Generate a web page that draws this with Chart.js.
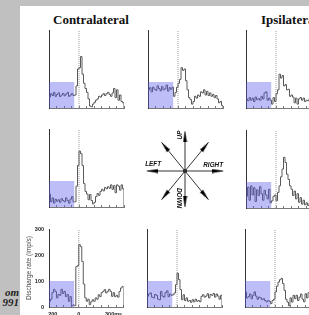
<!DOCTYPE html>
<html>
<head>
<meta charset="utf-8">
<script src="https://cdn.jsdelivr.net/npm/chart.js@4.4.0/dist/chart.umd.min.js"></script>
<style>
html,body{margin:0;padding:0;}
body{width:309px;height:315px;background:#c0c0c0;position:relative;overflow:hidden;}
#hoja{position:absolute;left:20px;top:6px;width:289px;height:309px;background:#fff;}
canvas{position:absolute;}
.titulo{position:absolute;top:13px;font:bold 13px "Liberation Serif",serif;line-height:13px;color:#111;white-space:nowrap;}
.lado{position:absolute;right:290px;font:italic bold 11px "Liberation Serif",serif;line-height:11px;color:#222;text-align:right;white-space:nowrap;}
</style>
</head>
<body>
<div id="hoja"></div>
<div class="titulo" style="left:53px">Contralateral</div>
<div class="titulo" style="left:261px">Ipsilateral</div>
<div class="lado" style="top:287px">om</div>
<div class="lado" style="top:297px">991</div>
<script>
// bins de 10 ms, desde -200 ms
var binMs = [-200,-190,-180,-170,-160,-150,-140,-130,-120,-110,-100,-90,-80,-70,-60,-50,-40,-30,-20,-10,0,10,20,30,40,50,60,70,80,90,100,110,120,130,140,150,160,170,180,190,200,210,220,230,240,250,260,270,280,290];
var finBin = 300;

var tasaArribaIzq = [42,55,48,60,45,52,58,44,50,56,47,53,60,45,50,55,48,50,85,150,155,198,130,95,75,60,35,8,5,15,22,30,35,45,42,50,55,48,55,60,52,45,58,75,40,70,30,50,25,20];
var tasaArriba = [70,78,62,80,72,68,85,75,66,82,70,74,88,65,78,72,80,45,60,80,95,110,155,145,150,105,70,40,32,15,25,45,38,50,45,62,58,70,50,64,48,58,45,52,40,48,35,20,25,10];
var tasaArribaDer = [35,28,40,30,38,25,42,32,36,30,45,35,58,62,30,38,30,15,40,25,55,70,130,115,125,85,90,70,72,45,50,42,20,38,15,35,40,30,38,25,30,28,35,22,30,26,32,20,25,18];
var tasaIzq = [50,20,35,15,30,22,28,18,32,25,20,35,25,15,30,40,20,20,80,160,215,205,160,90,60,50,28,48,25,12,18,40,52,45,60,68,62,75,70,78,72,85,68,82,55,85,80,65,85,70];
var tasaDer = [45,80,30,85,50,78,25,70,48,82,55,30,68,50,35,72,20,28,45,50,28,60,85,120,150,195,175,130,110,85,72,48,65,35,55,22,40,15,30,12,20,10,18,8,15,10,12,8,10,6];
var tasaAbajoIzq = [22,30,55,68,60,35,48,45,68,52,60,40,48,22,40,5,8,5,155,160,240,232,175,88,35,22,30,9,20,28,22,35,30,47,40,55,60,67,54,60,68,60,41,55,40,45,38,60,73,79];
var tasaAbajo = [41,50,54,38,35,48,45,30,28,60,42,38,55,62,40,50,45,47,54,86,130,105,67,28,47,25,35,22,25,18,28,20,30,22,25,20,41,47,38,42,51,35,48,45,52,38,50,42,30,45];
var tasaAbajoDer = [58,35,40,50,32,45,58,42,30,38,35,28,32,25,20,24,22,13,25,30,58,80,96,105,110,90,64,30,19,5,35,19,45,32,45,25,38,50,30,20,51,35,55,30,45,25,40,35,28,30];

// caja de actividad de fondo
var cajaDesde = -200, cajaHasta = -30, cajaTasa = 100;
var ejeXmin = -200, ejeXmax = 300, ejeYmax = 300;
var etiquetasX = {'-200': '     200', '0': '0', '300': '300ms             '};

// brujula
var direcciones = ['UP', 'RIGHT', 'DOWN', 'LEFT', 'UP-RIGHT', 'UP-LEFT', 'DOWN-LEFT', 'DOWN-RIGHT'];
var angulos = [90, 0, 270, 180, 51, 129, 231, 309];
var largos = [44, 42, 40, 42, 41, 41, 41, 41];
var textosBrujula = ['UP', 'LEFT', 'RIGHT', 'DOWN'];
var textoX = [-5.5, -35, 31, -6.5];
var textoY = [40, 7, 6, -30];
var textoGiro = [-90, 0, 0, 90];

var paneles = [
  {tasa: tasaArribaIzq, x: 49, y: 108},
  {tasa: tasaArriba, x: 148, y: 108},
  {tasa: tasaArribaDer, x: 246, y: 108},
  {tasa: tasaIzq, x: 49, y: 207},
  {tasa: tasaDer, x: 246, y: 208},
  {tasa: tasaAbajoIzq, x: 49, y: 307, ejes: true},
  {tasa: tasaAbajo, x: 147, y: 307},
  {tasa: tasaAbajoDer, x: 245, y: 307}
];

function cargar_panel(p) {
  var ancho = 30 + 75 + 24, alto = 10 + 78 + 14;
  var cv = document.createElement('canvas');
  cv.width = ancho; cv.height = alto;
  cv.style.left = (p.x - 30) + 'px';
  cv.style.top = (p.y - 78 - 10) + 'px';
  document.body.appendChild(cv);

  var puntos = binMs.map(function (x, i) { return {x: x, y: p.tasa[i]}; });
  puntos.push({x: finBin, y: p.tasa[p.tasa.length - 1]});
  puntos.push({x: finBin, y: 0});

  new Chart(cv.getContext('2d'), {
    type: 'line',
    data: {
      datasets: [
        {data: [{x: cajaDesde, y: cajaTasa}, {x: cajaHasta, y: cajaTasa}], fill: 'origin',
         backgroundColor: 'rgba(90,90,235,0.4)', borderWidth: 0, pointRadius: 0},
        {data: puntos, stepped: 'before', borderColor: '#5a5a5a', borderWidth: 1, pointRadius: 0, fill: false},
        {data: [{x: 0, y: 0}, {x: 0, y: ejeYmax}], borderColor: '#999', borderDash: [1, 1], borderWidth: 1, pointRadius: 0}
      ]
    },
    options: {
      responsive: false,
      animation: false,
      events: [],
      layout: {padding: {top: 10, right: 24, left: 0, bottom: 0}},
      plugins: {legend: {display: false}, tooltip: {enabled: false}},
      scales: {
        x: {
          type: 'linear', min: ejeXmin, max: ejeXmax,
          afterFit: function (s) { s.height = 14; },
          border: {display: true, color: '#777', width: 1},
          grid: {display: true, drawOnChartArea: false, drawTicks: true, tickLength: -2, color: '#777'},
          ticks: {
            display: !!p.ejes, stepSize: 50, autoSkip: false, maxRotation: 0, padding: 6,
            color: '#222', font: {family: 'Liberation Sans', size: 5.5, weight: 'bold'},
            callback: function (v) { return etiquetasX[String(v)] || ''; }
          }
        },
        y: {
          type: 'linear', min: 0, max: ejeYmax,
          afterFit: function (s) { s.width = 30; },
          border: {display: true, color: '#333', width: 1},
          grid: {display: false, drawTicks: false},
          ticks: {
            display: !!p.ejes, stepSize: 100, padding: 5,
            color: '#222', font: {family: 'Liberation Sans', size: 5.5, weight: 'bold'}
          },
          title: {
            display: !!p.ejes, text: 'Discharge rate (imp/s)', color: '#444',
            font: {family: 'Liberation Sans', size: 6.5}, padding: {top: 6, bottom: 0}
          }
        }
      }
    }
  });
}

paneles.forEach(cargar_panel);

// punta de flecha (imagen usada como pointStyle)
var punta = document.createElement('canvas');
punta.width = 22; punta.height = 5;
var pc = punta.getContext('2d');
pc.fillStyle = '#000';
pc.beginPath();
pc.moveTo(0, 0.4); pc.lineTo(11, 2.5); pc.lineTo(0, 4.6); pc.closePath();
pc.fill();

var flechas = direcciones.map(function (d, i) {
  var a = angulos[i] * Math.PI / 180;
  return {
    label: d,
    data: [{x: 0, y: 0}, {x: largos[i] * Math.cos(a), y: largos[i] * Math.sin(a)}],
    borderColor: '#333', borderWidth: 1,
    pointRadius: [0, 4], pointStyle: punta, pointRotation: [0, -angulos[i]]
  };
});
flechas.push({data: [{x: 0, y: 0}], pointRadius: 2, pointBackgroundColor: '#000', pointBorderWidth: 0, showLine: false});

var textosPlugin = {
  id: 'textosBrujula',
  afterDatasetsDraw: function (chart) {
    var ctx = chart.ctx, sx = chart.scales.x, sy = chart.scales.y;
    ctx.save();
    ctx.fillStyle = '#111';
    ctx.font = 'italic bold 6.4px "Liberation Sans"';
    ctx.textAlign = 'center';
    ctx.textBaseline = 'middle';
    textosBrujula.forEach(function (t, i) {
      ctx.save();
      ctx.translate(sx.getPixelForValue(textoX[i]), sy.getPixelForValue(textoY[i]));
      ctx.rotate(textoGiro[i] * Math.PI / 180);
      ctx.fillText(t, 0, 0);
      ctx.restore();
    });
    ctx.restore();
  }
};

var cvB = document.createElement('canvas');
cvB.width = 110; cvB.height = 100;
cvB.style.left = (185 - 55) + 'px';
cvB.style.top = (171 - 50) + 'px';
document.body.appendChild(cvB);
new Chart(cvB.getContext('2d'), {
  type: 'scatter',
  data: {datasets: flechas},
  options: {
    responsive: false,
    animation: false,
    events: [],
    showLine: true,
    layout: {padding: 0},
    plugins: {legend: {display: false}, tooltip: {enabled: false}},
    scales: {
      x: {type: 'linear', min: -55, max: 55, display: false},
      y: {type: 'linear', min: -50, max: 50, display: false}
    }
  },
  plugins: [textosPlugin]
});
</script>
</body>
</html>
